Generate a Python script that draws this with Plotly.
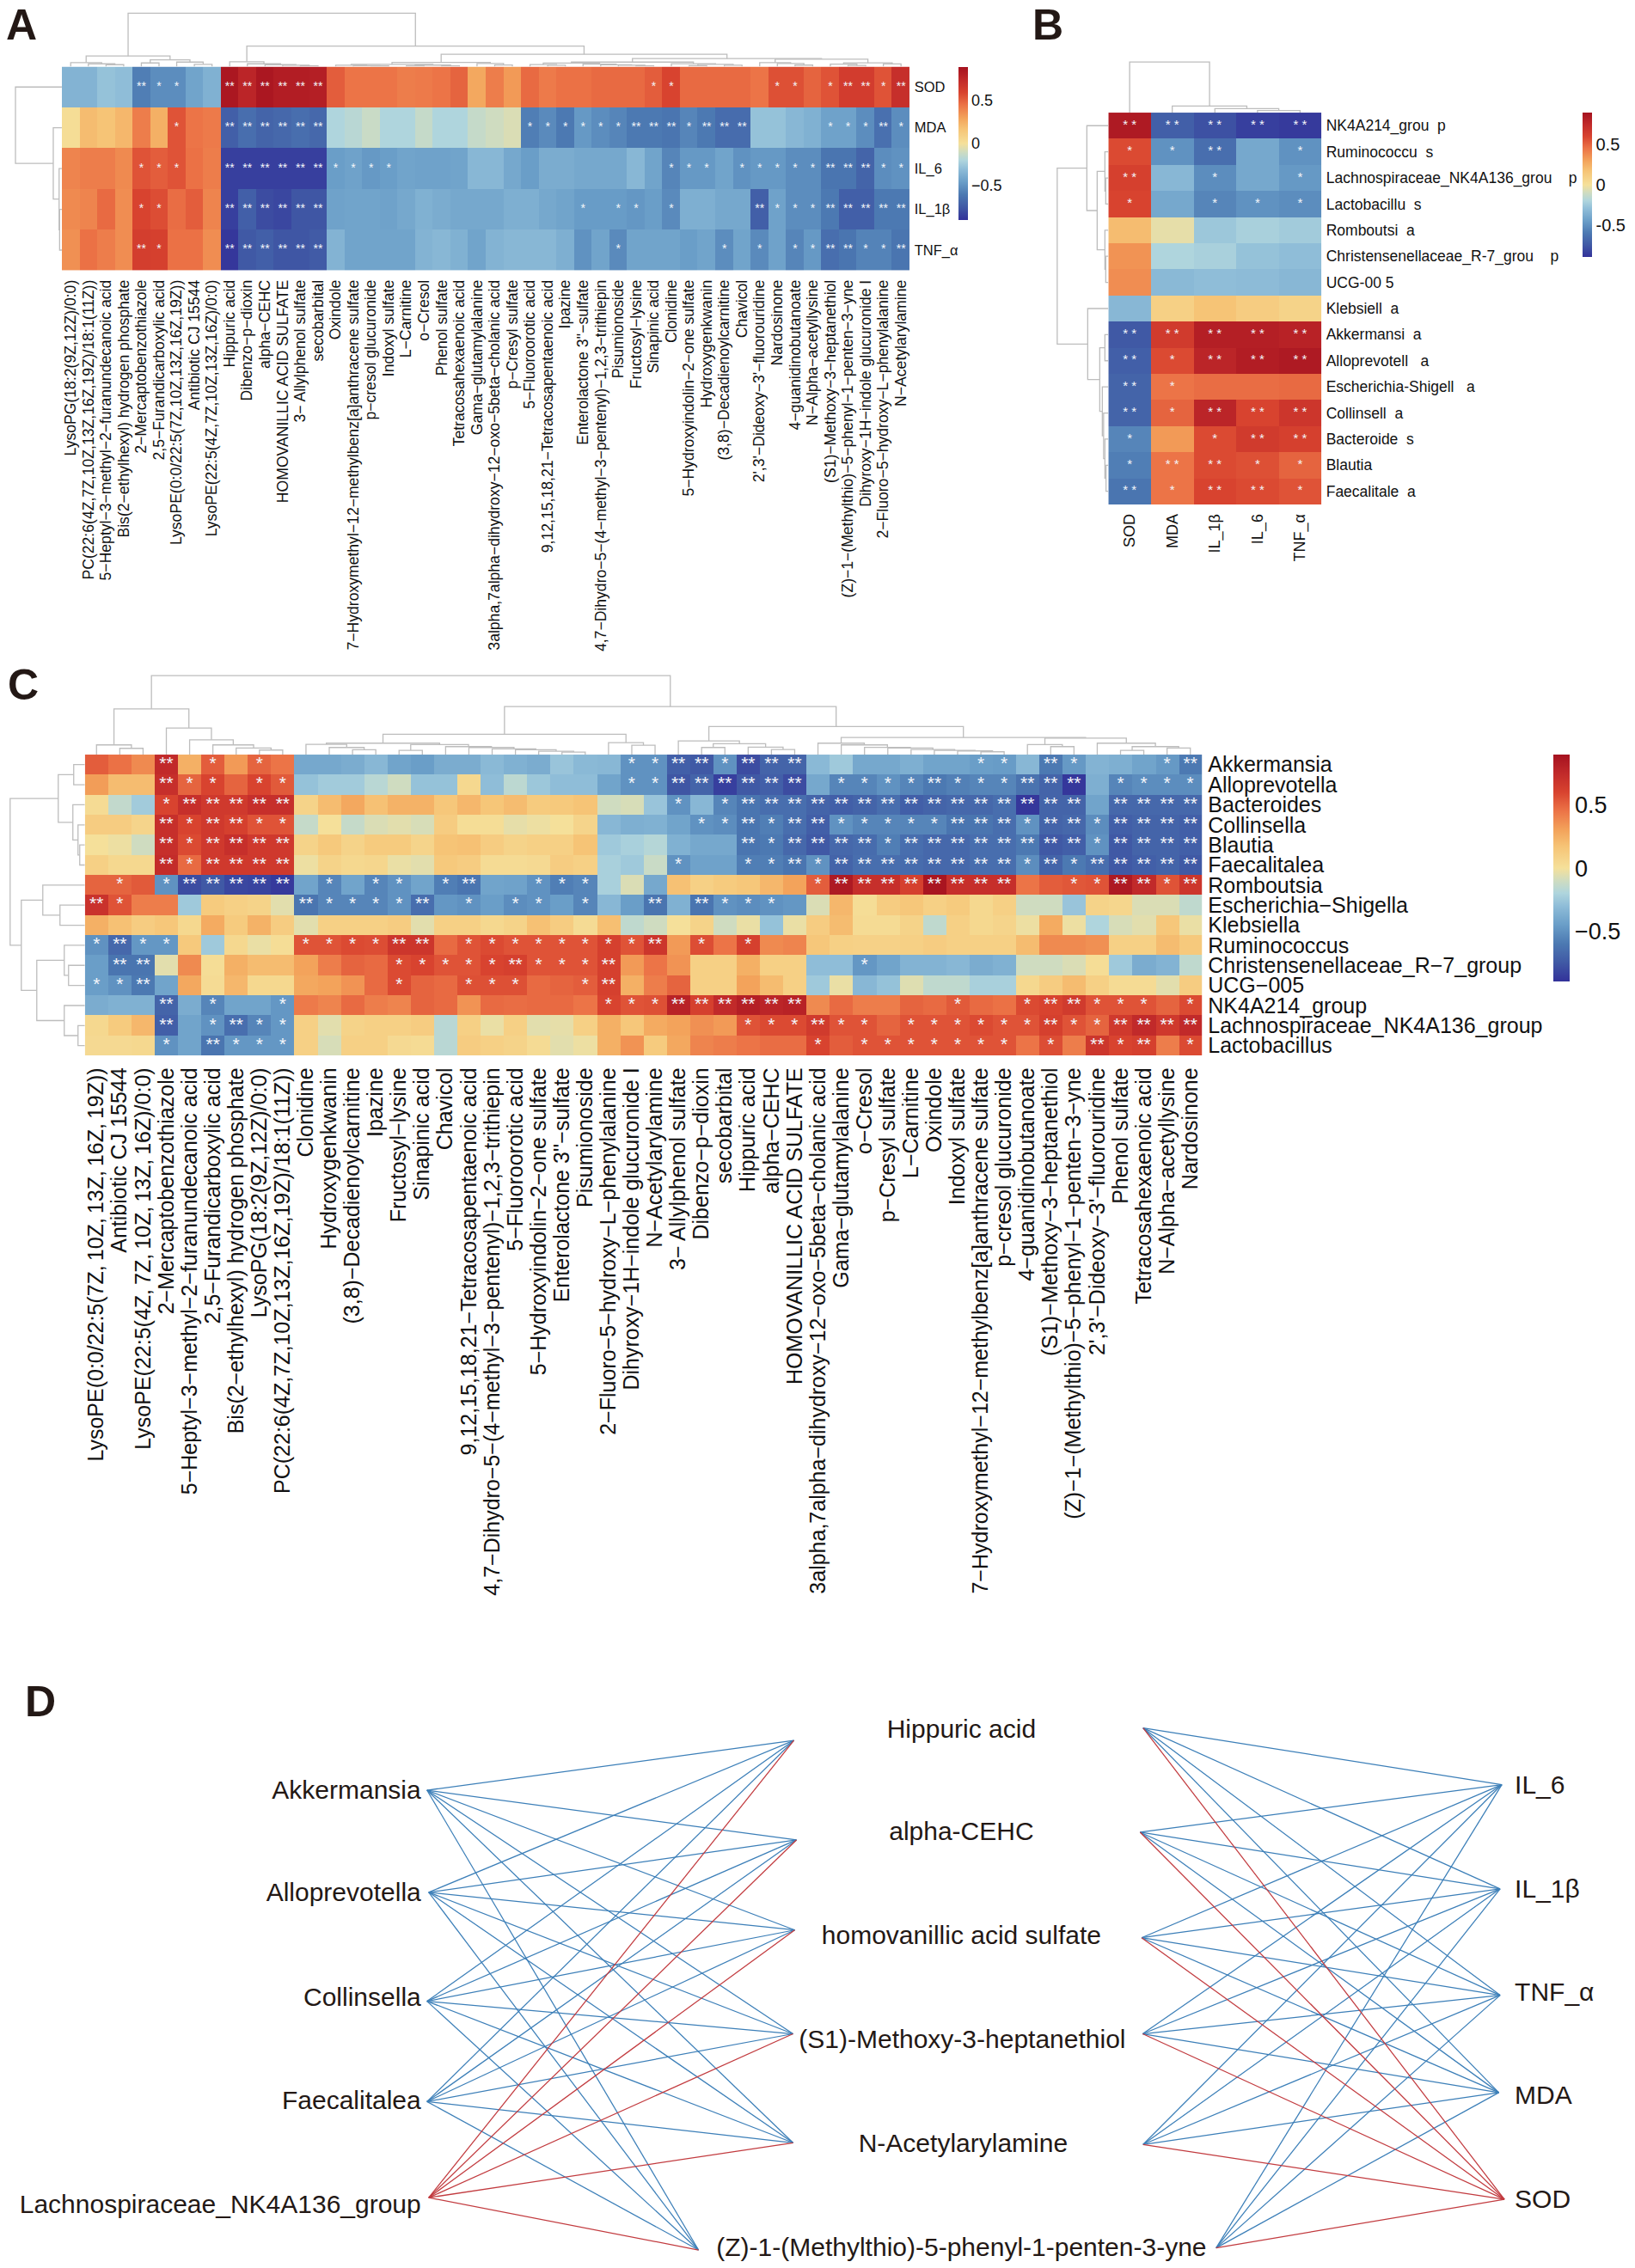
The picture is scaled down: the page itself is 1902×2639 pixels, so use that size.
import plotly.graph_objects as go

M = "\u2212"
N = "\u00a0"
T = "\u2009"

# ---------- panel A ----------
a_cols = ["LysoPG(18:2(9Z,12Z)/0:0)", "PC(22:6(4Z,7Z,10Z,13Z,16Z,19Z)/18:1(11Z))", "5−Heptyl−3−methyl−2−furanundecanoic acid",
 "Bis(2−ethylhexyl) hydrogen phosphate", "2−Mercaptobenzothiazole", "2,5−Furandicarboxylic acid",
 "LysoPE(0:0/22:5(7Z,10Z,13Z,16Z,19Z))", "Antibiotic CJ 15544", "LysoPE(22:5(4Z,7Z,10Z,13Z,16Z)/0:0)",
 "Hippuric acid", "Dibenzo−p−dioxin", "alpha−CEHC", "HOMOVANILLIC ACID SULFATE", "3− Allylphenol sulfate", "secobarbital",
 "Oxindole", "7−Hydroxymethyl−12−methylbenz[a]anthracene sulfate", "p−cresol glucuronide", "Indoxyl sulfate", "L−Carnitine",
 "o−Cresol", "Phenol sulfate", "Tetracosahexaenoic acid", "Gama−glutamylalanine", "3alpha,7alpha−dihydroxy−12−oxo−5beta−cholanic acid",
 "p−Cresyl sulfate", "5−Fluoroorotic acid", "9,12,15,18,21−Tetracosapentaenoic acid", "Ipazine", "Enterolactone 3''−sulfate",
 "4,7−Dihydro−5−(4−methyl−3−pentenyl)−1,2,3−trithiepin", "Pisumionoside", "Fructosyl−lysine", "Sinapinic acid", "Clonidine",
 "5−Hydroxyindolin−2−one sulfate", "Hydroxygenkwanin", "(3,8)−Decadienoylcarnitine", "Chavicol", "2',3'−Dideoxy−3'−fluorouridine",
 "Nardosinone", "4−guanidinobutanoate", "N−Alpha−acetyllysine", "(S1)−Methoxy−3−heptanethiol",
 "(Z)−1−(Methylthio)−5−phenyl−1−penten−3−yne", "Dihyroxy−1H−indole glucuronide I", "2−Fluoro−5−hydroxy−L−phenylalanine", "N−Acetylarylamine"]
a_rows = ["SOD", "MDA", "IL_6", "IL_1β", "TNF_α"]
a_sod = [-.35,-.35,-.28,-.3,-.58,-.52,-.52,-.42,-.36, .87,.78,.87,.83,.83,.82,
 .52,.45,.45,.45,.42,.43,.45,.5,.28,.42,.33,
 .48,.43,.46,.46,.48,.48,.48,.52,.6,.48,.48,.48,.48,.45,.56,.56,.5,.55,.64,.64,.55,.72]
a_mda = [.02,.2,.17,.22,.42,.25,.55,.45,.43, -.72,-.65,-.7,-.68,-.65,-.68,
 -.2,-.17,-.12,-.2,-.2,-.13,-.2,-.2,-.13,-.1,-.07,
 -.58,-.53,-.6,-.47,-.52,-.55,-.6,-.6,-.62,-.55,-.6,-.66,-.66,-.28,-.28,-.33,-.36,-.43,-.43,-.52,-.64,-.52]
a_il6 = [.4,.42,.42,.38,.55,.52,.55,.46,.42, -.85,-.85,-.85,-.85,-.85,-.85,
 -.45,-.43,-.47,-.45,-.42,-.43,-.43,-.42,-.33,-.33,-.4,
 -.45,-.38,-.38,-.4,-.4,-.4,-.33,-.42,-.55,-.47,-.47,-.42,-.5,-.47,-.47,-.52,-.52,-.62,-.62,-.7,-.52,-.5]
a_il1b = [.38,.4,.48,.37,.6,.57,.47,.52,.4, -.85,-.72,-.8,-.82,-.76,-.76,
 -.43,-.42,-.42,-.43,-.4,-.36,-.38,-.4,-.4,-.4,-.37,
 -.37,-.4,-.42,-.46,-.46,-.46,-.48,-.45,-.53,-.37,-.37,-.4,-.4,-.72,-.43,-.52,-.52,-.6,-.72,-.72,-.6,-.6]
a_tnf = [.36,.46,.42,.37,.63,.62,.46,.46,.37, -.88,-.75,-.72,-.76,-.76,-.74,
 -.35,-.42,-.42,-.42,-.42,-.35,-.33,-.36,-.42,-.35,-.33,
 -.33,-.33,-.37,-.5,-.42,-.53,-.42,-.42,-.42,-.45,-.42,-.52,-.42,-.53,-.43,-.55,-.47,-.65,-.62,-.56,-.56,-.62]
a_values = [a_sod, a_mda, a_il6, a_il1b, a_tnf]
a_stars = ["000021100"+"222222"+"00000000000"+"0000000110000011012212",
           "000000100"+"222222"+"00000000000"+"1111112221222000011121",
           "000011100"+"222222"+"11110000000"+"0000000011101111122211",
           "000011000"+"222222"+"00000000000"+"0001011010000211122222",
           "000021000"+"222222"+"00000000000"+"0000010000010101122112"]
a_col_tree = [62.4,
  [12.4, [4.7, 0, [3.3, 1, [2.3, 2, 3]]],
         [8, [4.3, 4, 5], [5.3, 6, [2.7, 7, 8]]]],
  [24, [5.7, 9, [3.3, 10, [2.3, 11, [1.7, 12, [1.0, 13, 14]]]]],
       [14.4,
        [5, [2.6, [1.6, 15, [1.2, 16, [0.8, 17, 18]]], [1.8, [1.0, 19, 20], [1.0, 21, 22]]],
            [3.7, 23, [2, 24, 25]]],
        [9.4,
         [5.3, [4.2, [2.4, 26, [1.6, 27, 28]], [3.0, 29, [2.1, 30, [1.6, 31, [1.0, 32, 33]]]]],
               [3.4, 34, [2.6, [1.2, 35, 36], [1.6, 37, 38]]]],
         [8.8, [4.7, 39, [3.6, 40, [1.8, 41, 42]]],
               [4.4, [3.0, 43, [1.4, 44, 45]], [3.2, 46, 47]]]]]]]
a_row_tree = [54, 0, [10, 1, [3.2, 2, [2.6, 3, 4]]]]

# ---------- panel B ----------
b_cols = ["SOD", "MDA", "IL_1β", "IL_6", "TNF_α"]
b_rows = ["NK4A214_grou"+N*2+"p", "Ruminococcu"+N*2+"s", "Lachnospiraceae_NK4A136_grou"+N*4+"p", "Lactobacillu"+N*2+"s",
          "Romboutsi"+N*2+"a", "Christensenellaceae_R-7_grou"+N*4+"p", "UCG-00"+N+"5", "Klebsiell"+N*2+"a",
          "Akkermansi"+N*2+"a", "Alloprevotell"+N*3+"a", "Escherichia-Shigell"+N*3+"a", "Collinsell"+N*2+"a",
          "Bacteroide"+N*2+"s", "Blautia", "Faecalitale"+N*2+"a"]
b_sod = [.85,.58,.62,.6,.2,.35,.37,-.33,-.75,-.72,-.7,-.7,-.55,-.58,-.62]
b_mda = [-.72,-.5,-.33,-.4,-.04,-.2,-.32,.1,.65,.58,.45,.5,.33,.45,.45]
b_il1b = [-.78,-.65,-.52,-.55,-.26,-.22,-.3,.17,.82,.78,.47,.78,.58,.58,.6]
b_il6 = [-.85,-.4,-.4,-.5,-.22,-.28,-.31,.12,.82,.83,.47,.6,.65,.56,.58]
b_tnf = [-.87,-.5,-.47,-.52,-.24,-.3,-.33,.08,.8,.85,.48,.68,.62,.5,.55]
b_values = [list(r) for r in zip(b_sod, b_mda, b_il1b, b_il6, b_tnf)]
b_stars = ["22222","11201","20101","10111","00000","00000","00000","00000",
           "22222","21222","21000","21222","10122","12211","21221"]
b_col_tree = [59, 0, [7.6, 1, [4.7, 2, [2.4, 3, 4]]]]
b_row_tree = [59.5,
  [25, 0, [13, [4, 1, [3, 2, 3]], [4, 4, [3, 5, 6]]]],
  [24, 7, [10, [4, 8, 9], [7, 10, [5.5, 11, [4, 12, [2.7, 13, 14]]]]]]]

# ---------- panel C ----------
c_cols = ["LysoPE(0:0/22:5(7Z,"+T+"10Z,"+T+"13Z,"+T+"16Z,"+T+"19Z))", "Antibiotic CJ 15544", "LysoPE(22:5(4Z,"+T+"7Z,"+T+"10Z,"+T+"13Z,"+T+"16Z)/0:0)", "2−Mercaptobenzothiazole",
 "5−Heptyl−3−methyl−2−furanundecanoic acid", "2,5−Furandicarboxylic acid", "Bis(2−ethylhexyl) hydrogen phosphate", "LysoPG(18:2(9Z,12Z)/0:0)",
 "PC(22:6(4Z,7Z,10Z,13Z,16Z,19Z)/18:1(11Z))", "Clonidine", "Hydroxygenkwanin", "(3,8)−Decadienoylcarnitine", "Ipazine", "Fructosyl−lysine",
 "Sinapinic acid", "Chavicol", "9,12,15,18,21−Tetracosapentaenoic acid", "4,7−Dihydro−5−(4−methyl−3−pentenyl)−1,2,3−trithiepin",
 "5−Fluoroorotic acid", "5−Hydroxyindolin−2−one sulfate", "Enterolactone 3''−sulfate", "Pisumionoside", "2−Fluoro−5−hydroxy−L−phenylalanine",
 "Dihyroxy−1H−indole glucuronide I", "N−Acetylarylamine", "3− Allylphenol sulfate", "Dibenzo−p−dioxin", "secobarbital", "Hippuric acid",
 "alpha−CEHC", "HOMOVANILLIC ACID SULFATE", "3alpha,7alpha−dihydroxy−12−oxo−5beta−cholanic acid", "Gama−glutamylalanine", "o−Cresol",
 "p−Cresyl sulfate", "L−Carnitine", "Oxindole", "Indoxyl sulfate", "7−Hydroxymethyl−12−methylbenz[a]anthracene sulfate", "p−cresol glucuronide",
 "4−guanidinobutanoate", "(S1)−Methoxy−3−heptanethiol", "(Z)−1−(Methylthio)−5−phenyl−1−penten−3−yne", "2',3'−Dideoxy−3'−fluorouridine",
 "Phenol sulfate", "Tetracosahexaenoic acid", "N−Alpha−acetyllysine", "Nardosinone"]
c_rows = ["Akkermansia", "Alloprevotella", "Bacteroides", "Collinsella", "Blautia", "Faecalitalea", "Romboutsia", "Escherichia−Shigella",
          "Klebsiella", "Ruminococcus", "Christensenellaceae_R−7_group", "UCG−005", "NK4A214_group", "Lachnospiraceae_NK4A136_group", "Lactobacillus"]
c_akk = [.52,.46,.38,.75,.25,.52,.33,.5,.45,
 -.4,-.4,-.38,-.33,-.42,-.45,-.38,-.38,-.32,-.36,-.38,-.27,-.32,-.33,-.5,-.5,
 -.72,-.75,-.5,-.8,-.7,-.7,
 -.32,-.25,-.4,-.4,-.37,-.42,-.42,-.45,-.46,-.33,-.6,-.47,-.35,-.37,-.42,-.47,-.6]
c_allo = [.32,.2,.2,.72,.5,.6,.5,.6,.53,
 -.28,-.24,-.24,-.17,-.1,-.28,-.28,.05,-.3,-.16,-.26,-.3,-.3,-.42,-.5,-.5,
 -.76,-.7,-.85,-.75,-.72,-.8,
 -.4,-.55,-.55,-.5,-.55,-.6,-.57,-.55,-.55,-.63,-.7,-.88,-.37,-.55,-.52,-.52,-.52]
c_bact = [.03,-.14,-.24,.6,.72,.66,.66,.72,.72,
 .08,.2,.28,.18,.24,.24,.15,.22,.16,.2,.13,.14,.17,-.1,-.08,-.27,
 -.5,-.33,-.55,-.62,-.65,-.65,
 -.7,-.72,-.7,-.65,-.72,-.7,-.68,-.68,-.65,-.88,-.7,-.7,-.42,-.68,-.68,-.68,-.68]
c_coll = [.12,.12,.07,.72,.6,.66,.62,.55,.55,
 -.13,0,-.13,-.07,-.05,-.08,.12,.02,.02,-.04,-.02,0,.07,-.33,-.37,-.36,
 -.42,-.5,-.52,-.62,-.58,-.65,
 -.72,-.5,-.55,-.55,-.55,-.55,-.62,-.62,-.65,-.5,-.7,-.68,-.52,-.72,-.7,-.7,-.72]
c_blau = [0,-.02,-.1,.72,.58,.66,.72,.66,.66,
 .08,.14,.08,.13,.13,.07,.17,.18,.12,.08,.1,.1,.17,-.25,-.22,-.18,
 -.36,-.4,-.4,-.62,-.6,-.68,
 -.75,-.68,-.66,-.58,-.65,-.68,-.68,-.65,-.65,-.6,-.75,-.72,-.5,-.75,-.7,-.7,-.72]
c_faec = [.1,.05,.05,.74,.48,.66,.66,.66,.66,
 -.02,.08,.05,.06,-.03,-.05,.14,.12,.03,.03,.04,.12,.1,-.22,-.25,-.12,
 -.5,-.43,-.43,-.58,-.58,-.62,
 -.5,-.7,-.65,-.65,-.66,-.68,-.68,-.65,-.65,-.52,-.7,-.6,-.65,-.75,-.72,-.7,-.75]
c_romb = [.5,.5,.53,-.5,-.8,-.75,-.82,-.83,-.87,
 -.42,-.55,-.42,-.55,-.5,-.42,-.58,-.62,-.42,-.43,-.5,-.58,-.55,-.22,-.07,-.4,
 .18,.1,.13,.15,.22,.3,
 .52,.85,.72,.72,.62,.88,.72,.72,.72,.45,.52,.54,.55,.85,.75,.55,.68]
c_esch = [.7,.55,.42,.42,-.25,.13,.1,.08,-.05,
 -.62,-.55,-.55,-.55,-.5,-.65,-.48,-.5,-.45,-.52,-.5,-.45,-.55,-.33,-.45,-.62,
 -.36,-.62,-.5,-.52,-.5,-.48,
 -.07,.22,.02,.12,.15,.1,.13,.05,.1,-.1,-.1,-.27,.08,.06,-.07,-.07,-.15]
c_kleb = [.25,.18,.12,.15,.05,.27,.13,.24,.12,
 -.05,.1,.1,.1,.12,-.05,.1,.1,.05,.08,.18,.12,.03,.19,-.15,-.1,
 0,.08,-.1,-.03,-.28,-.03,
 .12,.2,.03,.03,.08,-.15,.1,.05,.07,-.02,.27,-.02,-.2,-.08,-.05,.15,-.03]
c_rumi = [-.5,-.68,-.48,-.48,.14,-.25,.05,-.03,.02,
 .55,.55,.58,.57,.68,.68,.48,.55,.58,.55,.55,.55,.55,.62,.55,.68,
 .33,.57,.45,.62,.38,.4,
 .15,.1,.09,.09,.1,.12,.1,.1,.1,.2,.38,.38,.36,.1,.1,.2,.14]
c_chri = [-.45,-.62,-.62,-.05,.38,.02,.25,.2,.2,
 .3,.42,.5,.48,.58,.6,.55,.55,.6,.62,.55,.55,.55,.62,.33,.45,
 .35,.1,.1,.25,.1,.1,
 -.3,-.3,-.48,-.42,-.35,-.35,-.33,-.38,-.36,-.1,-.1,-.07,.02,-.25,-.38,-.35,-.15]
c_ucg = [-.45,-.5,-.6,-.42,.28,.03,.22,.05,.05,
 .28,.3,.35,.48,.58,.5,.48,.56,.56,.56,.48,.5,.52,.62,.25,.42,
 .5,.1,.1,.3,.2,.1,
 -.25,-.03,-.33,-.28,-.06,-.15,-.15,-.22,-.22,.05,.12,.2,.1,.03,.03,-.05,.12]
c_nk = [-.38,-.36,-.36,-.7,-.38,-.55,-.42,-.42,-.48,
 .43,.4,.48,.42,.4,.5,.48,.35,.48,.47,.48,.48,.45,.6,.55,.56,
 .8,.62,.75,.82,.78,.8,
 .38,.48,.42,.42,.5,.48,.53,.48,.46,.58,.6,.65,.55,.55,.55,.5,.58]
c_lach = [.05,.13,.22,-.72,-.42,-.5,-.65,-.55,-.48,
 .1,-.05,.08,.1,.1,.12,-.17,.1,-.03,.1,-.05,-.04,.1,.25,.15,.27,
 .3,.36,.33,.55,.58,.58,
 .65,.55,.55,.5,.55,.55,.55,.58,.55,.55,.62,.55,.5,.66,.75,.66,.75]
c_lact = [.04,.04,.05,-.5,-.42,-.62,-.48,-.48,-.48,
 .1,-.08,.1,.1,.04,.03,-.17,.12,.1,.08,.03,-.05,-.02,.25,.35,.13,
 .28,.4,.42,.45,.47,.47,
 .6,.52,.55,.55,.55,.55,.55,.55,.55,.45,.57,.42,.68,.6,.62,.42,.58]
c_values = [c_akk, c_allo, c_bact, c_coll, c_blau, c_faec, c_romb, c_esch, c_kleb, c_rumi, c_chri, c_ucg, c_nk, c_lach, c_lact]
Z16, Z6, Z17, Z9 = "0"*16, "0"*6, "0"*17, "0"*9
c_stars = ["000201010"+"0000000000000011"+"221222"+"00000001102100012",
           "000211011"+"0000000000000011"+"222222"+"01111211122201111",
           "000122222"+Z16+"101222"+"22222222222202222",
           "000212211"+Z16+"011212"+"21111122212212222",
           "000212222"+Z16+"000212"+"22212222222212222",
           "000212222"+Z16+"100112"+"12222222212122222",
           "010122222"+"0101101200111000"+Z6+"12222222200112212",
           "210000000"+"2111120101101002"+"021110"+Z17,
           Z9+Z16+Z6+Z17,
           "121100000"+"1111220111111112"+"010100"+Z17,
           "022000000"+"0000111112111200"+Z6+"00100000000000000",
           "112000000"+"0000100111001200"+Z6+Z17,
           "000201001"+"0000000000000111"+"222222"+"00000010012211101",
           "000201211"+Z16+"000111"+"21101111112112222",
           "000102111"+Z16+Z6+"10111111101021201"]
c_col_tree = [92,
  [53.3, [11.3, 0, [7.3, 1, 2]],
         [31, 3, [17.3, 4, [11.3, 5, [7.7, 6, [5.3, 7, 8]]]]]],
  [56,
   [23.7,
    [13.3, [12, 9, [8.3, 10, [5.7, 11, 12]]],
           [11.7, [5, 13, 14], [9.3, 15, [8.3, 16, [6.7, 17, [5.7, 18, [4, 19, [3, 20, 21]]]]]]]],
    [14, 22, [11, 23, 24]]],
   [32.7,
    [16, 25, [12.7, [8.3, 26, 27], [8.7, 28, [6, 29, 30]]]],
    [20,
     [13.3, 31, [11.3, 32, [8.5, 33, [7.7, 34, [6, 35, [5, 36, [4.3, 37, [3.3, 38, 39]]]]]]]],
     [19.3, [11.7, 40, [9.3, 41, 42]], [13.3, 43, [9.3, [5, 44, 45], [7.7, 46, 47]]]]]]]]
c_row_tree = [87,
  [31, [13, 0, 1], [14, 2, [8, 3, [6, 4, 5]]]],
  [74, [49, 6, [29, 7, 8]],
       [56, [24, 9, [19, 10, 11]], [24, 12, [8, 13, 14]]]]]

# ---------- panel D ----------
genus_names = ["Akkermansia", "Alloprevotella", "Collinsella", "Faecalitalea", "Lachnospiraceae_NK4A136_group"]
genus_label_x = [489, 489, 489, 489, 489]
genus_label_y = [2086, 2206, 2328, 2448, 2569]
genus_node_x = [496, 498, 496, 496, 498]
genus_node_y = [2084, 2203, 2330, 2447, 2559]
metab_names = ["Hippuric acid", "alpha-CEHC", "homovanillic acid sulfate", "(S1)-Methoxy-3-heptanethiol", "N-Acetylarylamine",
               "(Z)-1-(Methylthio)-5-phenyl-1-penten-3-yne"]
metab_label_x = [1118, 1118, 1118, 1119, 1120, 1118]
metab_label_y = [2015, 2135, 2256, 2377, 2498, 2619]
metab_in_x = [923, 926, 924, 922, 922, 812]
metab_in_y = [2026, 2142, 2247, 2368, 2495, 2620]
metab_out_x = [1329.5, 1326, 1327.7, 1329, 1329.5, 1414.5]
metab_out_y = [2011.5, 2133, 2256, 2368, 2497, 2617.6]
marker_names = ["IL_6", "IL_1β", "TNF_α", "MDA", "SOD"]
marker_label_x = [1762, 1762, 1762, 1762, 1762]
marker_label_y = [2080.5, 2201.6, 2322, 2442, 2563]
marker_node_x = [1747, 1745, 1745, 1743.5, 1750]
marker_node_y = [2077.5, 2199, 2323, 2436.5, 2561]
red_genus = "Lachnospiraceae_NK4A136_group"
red_marker = "SOD"

# ---------- styling ----------
W, H = 1902, 2639
SCALE = [[0, "#33329A"], [.0833, "#4059A5"], [.1667, "#4C79B2"], [.25, "#6A9EC8"], [.3333, "#8FBDD8"], [.3889, "#AFD5DD"], [.4444, "#CFDCC0"],
         [.5, "#F5E09A"], [.5944, "#F6C476"], [.6667, "#F3A35B"], [.75, "#EC7447"], [.8333, "#D8432F"], [.9167, "#C12A2A"], [1, "#A5121F"]]
FONT = "Liberation Sans"
GREY = "#BDBDBD"
BLUE = "#3C7FB8"
RED = "#C23B3F"
INK = "#231815"

fig = go.Figure()
layout = {}


def px_x(v):
    return v / W


def px_y(v):
    return 1 - v / H


def set_axes(n, xdom, ydom, xkw, ykw):
    base = dict(showgrid=False, zeroline=False, showline=False)
    layout[f"xaxis{n}"] = dict(base, domain=[px_x(xdom[0]), px_x(xdom[1])], anchor=f"y{n}", **xkw)
    layout[f"yaxis{n}"] = dict(base, domain=[px_y(ydom[1]), px_y(ydom[0])], anchor=f"x{n}", **ykw)


def heat_panel(n, cols, rows, values, stars, box, colfont, rowfont, starfont, double, cbar):
    x0, x1, y0, y1 = box
    fig.add_trace(go.Heatmap(z=values, x=cols, y=rows, xaxis=f"x{n}", yaxis=f"y{n}", colorscale=SCALE, zmin=-.9, zmax=.9,
                             hoverongaps=False, colorbar=dict(
                                 x=px_x(cbar["x"]), xanchor="left", y=px_y(cbar["y0"]), yanchor="top", len=cbar["y1"] - cbar["y0"],
                                 lenmode="pixels", thickness=cbar["w"], thicknessmode="pixels", outlinewidth=0, xpad=0, ypad=0,
                                 tickmode="array", tickvals=[.5, 0, -.5], ticktext=cbar["text"], ticks="", ticklen=0,
                                 tickfont=dict(family=FONT, size=cbar["size"], color="#111111"))))
    sx, sy, st = [], [], []
    for r, row in enumerate(stars):
        for c, ch in enumerate(row):
            if ch != "0":
                sx.append(cols[c]); sy.append(rows[r]); st.append("*" if ch == "1" else double)
    fig.add_trace(go.Scatter(x=sx, y=sy, text=st, mode="text", xaxis=f"x{n}", yaxis=f"y{n}", hoverinfo="skip", showlegend=False,
                             textposition="middle center", textfont=dict(family=FONT, size=starfont, color="#F4F6FA")))
    set_axes(n, (x0, x1), (y0, y1),
             dict(type="category", categoryorder="array", categoryarray=cols, range=[-.5, len(cols) - .5], dtick=1, tickangle=-90,
                  tickfont=dict(family=FONT, size=colfont, color="#111111"), ticks="outside", ticklen=3, tickcolor="rgba(0,0,0,0)"),
             dict(type="category", categoryorder="array", categoryarray=rows, range=[len(rows) - .5, -.5], dtick=1, side="right",
                  tickfont=dict(family=FONT, size=rowfont, color="#111111"), ticks="outside", ticklen=1, tickcolor="rgba(0,0,0,0)"))


def walk(tree, segs):
    if isinstance(tree, int):
        return tree, 0.0
    h, left, right = tree
    lp, lh = walk(left, segs)
    rp, rh = walk(right, segs)
    segs.append(((lp, lh), (lp, h), (rp, h), (rp, rh)))
    return (lp + rp) / 2, h


def dendro(n, tree, count, box, vertical):
    segs = []
    walk(tree, segs)
    top = tree[0] + 1.5
    a, b = [], []
    for s in segs:
        for pos, hgt in s:
            a.append(pos); b.append(hgt)
        a.append(None); b.append(None)
    hidden = dict(visible=False)
    x0, x1, y0, y1 = box
    if vertical:
        fig.add_trace(go.Scatter(x=a, y=b, mode="lines", line=dict(color=GREY, width=1.3), xaxis=f"x{n}", yaxis=f"y{n}",
                                 hoverinfo="skip", showlegend=False))
        set_axes(n, (x0, x1), (y0 - top, y0), dict(hidden, range=[-.5, count - .5]), dict(hidden, range=[0, top]))
    else:
        fig.add_trace(go.Scatter(x=b, y=a, mode="lines", line=dict(color=GREY, width=1.3), xaxis=f"x{n}", yaxis=f"y{n}",
                                 hoverinfo="skip", showlegend=False))
        set_axes(n, (x0 - top, x0), (y0, y1), dict(hidden, range=[top, 0]), dict(hidden, range=[count - .5, -.5]))


# network
set_axes(2, (0, W), (0, H), dict(visible=False, range=[0, W]), dict(visible=False, range=[H, 0]))
for colour, want_red in ((BLUE, False), (RED, True)):
    ex, ey = [], []
    for g, gname in enumerate(genus_names):
        for m in range(len(metab_names)):
            if (gname == red_genus) == want_red:
                ex += [genus_node_x[g], metab_in_x[m], None]; ey += [genus_node_y[g], metab_in_y[m], None]
    for m in range(len(metab_names)):
        for k, kname in enumerate(marker_names):
            if (kname == red_marker) == want_red:
                ex += [metab_out_x[m], marker_node_x[k], None]; ey += [metab_out_y[m], marker_node_y[k], None]
    fig.add_trace(go.Scatter(x=ex, y=ey, mode="lines", line=dict(color=colour, width=1.25), xaxis="x2", yaxis="y2",
                             hoverinfo="skip", showlegend=False))
for names, xs, ys, pos in ((genus_names, genus_label_x, genus_label_y, "middle left"),
                           (metab_names, metab_label_x, metab_label_y, "middle center"),
                           (marker_names, marker_label_x, marker_label_y, "middle right")):
    fig.add_trace(go.Scatter(x=xs, y=ys, text=names, mode="text", textposition=pos, xaxis="x2", yaxis="y2", hoverinfo="skip", showlegend=False,
                             textfont=dict(family=FONT, size=30, color=INK)))

A_BOX = (71, 1058, 74.7, 312.3)
B_BOX = (1289, 1537, 128.3, 585)
C_BOX = (97.8, 1398, 876.7, 1227.7)

heat_panel(3, a_cols, a_rows, a_values, a_stars, A_BOX, 17.6, 16.5, 14, "**",
           dict(x=1115, y0=74.7, y1=252.3, w=10.5, size=18, text=["0.5", "0", M + "0.5"]))
heat_panel(4, b_cols, b_rows, b_values, b_stars, B_BOX, 18, 17.5, 15, "* *",
           dict(x=1840.7, y0=128.3, y1=296, w=10.7, size=20, text=["0.5", "0", "-0.5"]))
heat_panel(5, c_cols, c_rows, c_values, c_stars, C_BOX, 25, 25, 21, "**",
           dict(x=1807, y0=877, y1=1141, w=19, size=27, text=["0.5", "0", M + "0.5"]))

dendro(6, a_col_tree, 48, A_BOX, True)
dendro(7, a_row_tree, 5, A_BOX, False)
dendro(8, b_col_tree, 5, B_BOX, True)
dendro(9, b_row_tree, 15, B_BOX, False)
dendro(10, c_col_tree, 48, C_BOX, True)
dendro(11, c_row_tree, 15, C_BOX, False)

letters = [("A", 4, 26), ("B", 1199, 26), ("C", 6, 796), ("D", 26, 1981)]
annotations = [dict(text=f"<b>{t}</b>", x=px_x(x), y=px_y(y), xref="paper", yref="paper", xanchor="left", yanchor="middle", showarrow=False,
                    font=dict(family=FONT, size=50, color=INK)) for t, x, y in letters]

fig.update_layout(width=W, height=H, margin=dict(l=0, r=0, t=0, b=0), paper_bgcolor="white", plot_bgcolor="rgba(0,0,0,0)",
                  showlegend=False, annotations=annotations, **layout)
fig.write_html("out.html", post_script='document.body.style.margin="0";', config={"displayModeBar": False})
